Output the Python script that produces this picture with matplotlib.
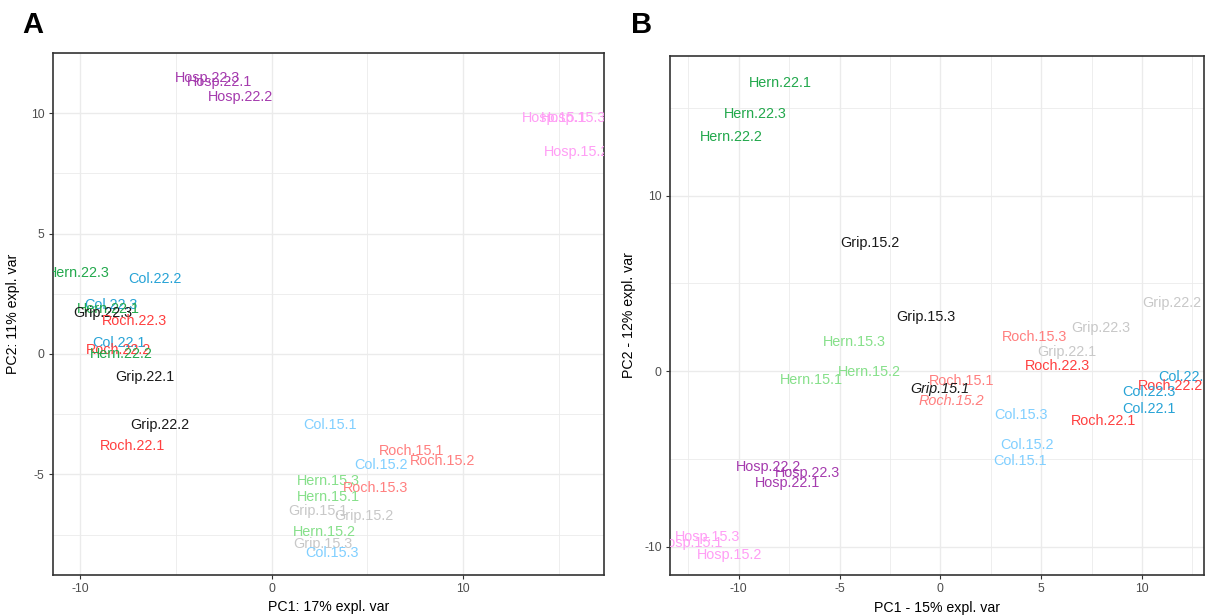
import matplotlib
matplotlib.use("Agg")
import matplotlib.pyplot as plt
from matplotlib.ticker import MultipleLocator

plt.rcParams["font.family"] = ["Liberation Sans", "DejaVu Sans"]
plt.rcParams["axes.unicode_minus"] = False

# ---- Panel A: PCA scores (PC1 vs PC2) ----
a_labels = ["Hosp.22.3", "Hosp.22.1", "Hosp.22.2", "Hosp.15.1", "Hosp.15.3", "Hosp.15.2",
            "Hern.22.3", "Col.22.2", "Col.22.3", "Hern.22.1", "Grip.22.3", "Roch.22.3",
            "Col.22.1", "Roch.22.2", "Hern.22.2", "Grip.22.1", "Grip.22.2", "Roch.22.1",
            "Col.15.1", "Roch.15.1", "Roch.15.2", "Col.15.2", "Hern.15.3", "Roch.15.3",
            "Hern.15.1", "Grip.15.1", "Grip.15.2", "Hern.15.2", "Grip.15.3", "Col.15.3"]
a_pc1 = [-3.36, -2.7, -1.6, 14.77, 15.76, 15.9,
         -10.1, -6.09, -8.39, -8.5, -8.8, -7.14,
         -7.95, -8.0, -7.84, -6.62, -5.82, -7.27,
         3.06, 7.28, 8.9, 5.71, 2.98, 5.42,
         2.94, 2.44, 4.79, 2.77, 2.7, 3.14]
a_pc2 = [11.45, 11.31, 10.66, 9.79, 9.82, 8.4,
         3.35, 3.12, 2.04, 1.87, 1.69, 1.38,
         0.44, 0.17, 0.0, -0.94, -2.95, -3.81,
         -2.95, -4.02, -4.45, -4.61, -5.26, -5.58,
         -5.93, -6.51, -6.72, -7.41, -7.91, -8.28]

# ---- Panel B: PCA scores (PC1 vs PC2) ----
b_labels = ["Hern.22.1", "Hern.22.3", "Hern.22.2", "Grip.15.2", "Grip.15.3", "Grip.22.2",
            "Grip.22.3", "Roch.15.3", "Hern.15.3", "Grip.22.1", "Roch.22.3", "Hern.15.2",
            "Hern.15.1", "Roch.15.1", "Grip.15.1", "Roch.15.2", "Col.15.3", "Roch.22.1",
            "Col.22.2", "Roch.22.2", "Col.22.3", "Col.22.1", "Col.15.2", "Col.15.1",
            "Hosp.22.2", "Hosp.22.3", "Hosp.22.1", "Hosp.15.3", "Hosp.15.1", "Hosp.15.2"]
b_pc1 = [-7.94, -9.16, -10.39, -3.49, -0.7, 11.5,
         7.95, 4.66, -4.24, 6.26, 5.81, -3.54,
         -6.41, 1.06, 0.0, 0.54, 4.0, 8.12,
         12.11, 11.4, 10.33, 10.36, 4.29, 3.96,
         -8.53, -6.59, -7.57, -11.54, -12.38, -10.48]
b_pc2 = [16.43, 14.63, 13.32, 7.31, 3.09, 3.86,
         2.43, 1.92, 1.64, 1.07, 0.28, -0.08,
         -0.51, -0.55, -1.04, -1.71, -2.51, -2.85,
         -0.36, -0.85, -1.22, -2.17, -4.22, -5.12,
         -5.49, -5.79, -6.4, -9.48, -9.82, -10.48]
b_italic = ["Grip.15.1", "Roch.15.2"]

# group colours (site + year)
a_colors = {
    "Col.15": "#80CFFF", "Col.22": "#27A3D6",
    "Grip.15": "#C8C8C8", "Grip.22": "#1A1A1A",
    "Hern.15": "#86E08A", "Hern.22": "#22A84C",
    "Hosp.15": "#FF9EF5", "Hosp.22": "#A53BAE",
    "Roch.15": "#FF7F7F", "Roch.22": "#FF4040",
}
b_colors = dict(a_colors)
b_colors["Grip.15"] = "#1A1A1A"
b_colors["Grip.22"] = "#C8C8C8"

GRID = "#EBEBEB"
BORDER = "#333333"
TICKTXT = "#4D4D4D"


def style_axes(ax, xlim, ylim, xmaj, ymaj, xlabel, ylabel, ypad=6):
    ax.set_xlim(*xlim)
    ax.set_ylim(*ylim)
    ax.xaxis.set_major_locator(MultipleLocator(xmaj))
    ax.xaxis.set_minor_locator(MultipleLocator(xmaj / 2))
    ax.yaxis.set_major_locator(MultipleLocator(ymaj))
    ax.yaxis.set_minor_locator(MultipleLocator(ymaj / 2))
    ax.grid(True, which="major", color=GRID, linewidth=1.0)
    ax.grid(True, which="minor", color=GRID, linewidth=0.6)
    ax.set_axisbelow(True)
    for s in ax.spines.values():
        s.set_color(BORDER)
        s.set_linewidth(1.2)
    ax.tick_params(which="major", length=3, width=0.8, color=BORDER,
                   labelsize=8.7, labelcolor=TICKTXT, pad=3)
    ax.tick_params(which="minor", length=0)
    ax.set_xlabel(xlabel, fontsize=10.2, color="black", labelpad=4)
    ax.set_ylabel(ylabel, fontsize=10.2, color="black", labelpad=ypad)


def draw_labels(ax, labels, xs, ys, colors, italic=()):
    for lab, x, y in zip(labels, xs, ys):
        grp = lab.rsplit(".", 1)[0]
        ax.text(x, y, lab, color=colors[grp], fontsize=10.4,
                ha="center", va="center", clip_on=True,
                style="italic" if lab in italic else "normal")


fig = plt.figure(figsize=(12.08, 6.16), dpi=100)

axA = fig.add_axes([53 / 1208, 1 - 574.5 / 616, 550.5 / 1208, 521.5 / 616])
style_axes(axA, (-11.4, 17.31), (-9.16, 12.5), 10, 5,
           "PC1: 17% expl. var", "PC2: 11% expl. var", ypad=8)
axA.set_xticks([-10, 0, 10])
draw_labels(axA, a_labels, a_pc1, a_pc2, a_colors)

axB = fig.add_axes([670 / 1208, 1 - 575 / 616, 534 / 1208, 519 / 616])
style_axes(axB, (-13.41, 13.08), (-11.62, 17.95), 5, 10,
           "PC1 - 15% expl. var", "PC2 - 12% expl. var", ypad=6)
draw_labels(axB, b_labels, b_pc1, b_pc2, b_colors, b_italic)

fig.text(33 / 1208, 1 - 25 / 616, "A", fontsize=21, fontweight="bold",
         ha="center", va="center")
fig.text(642 / 1208, 1 - 25 / 616, "B", fontsize=21, fontweight="bold",
         ha="center", va="center")

fig.savefig("out.png", dpi=100)
